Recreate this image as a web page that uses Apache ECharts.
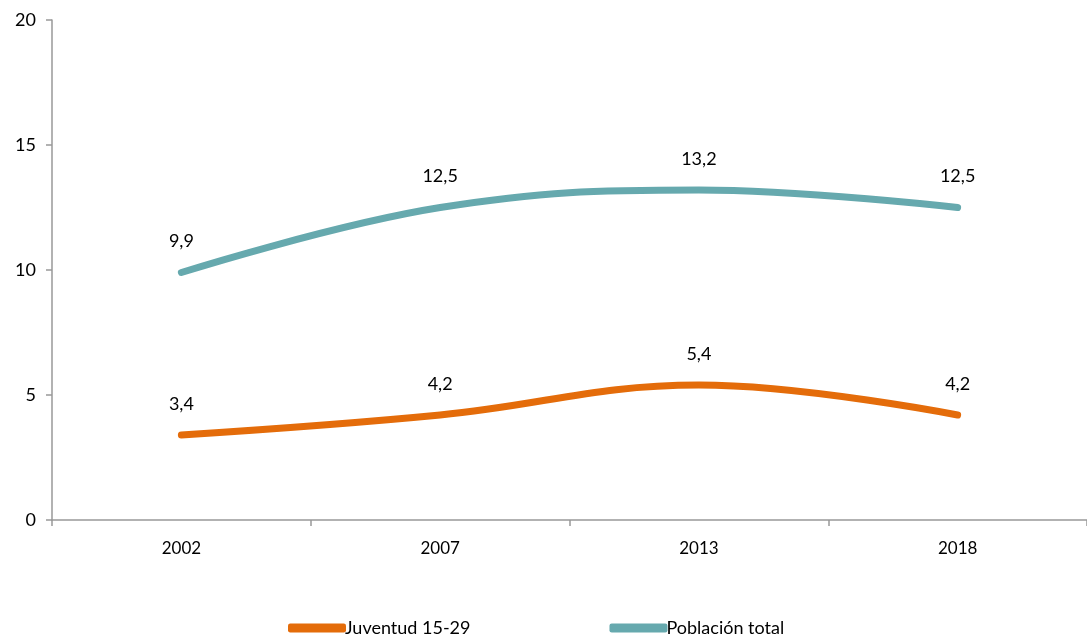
<!DOCTYPE html>
<html><head><meta charset="utf-8">
<script src="https://cdn.jsdelivr.net/npm/echarts@6/dist/echarts.min.js"></script>
<style>html,body{margin:0;padding:0;background:#fff}#c{width:1087px;height:636px}</style>
</head><body><div id="c"></div>
<script>
const categories = ['2002','2007','2013','2018'];
const juventud = [3.4, 4.2, 5.4, 4.2];
const poblacion = [9.9, 12.5, 13.2, 12.5];
const seriesNames = ['Juventud 15-29','Población total'];
const yTicks = [0,5,10,15,20];

const font = 'Lato, "Open Sans", sans-serif';
const chart = echarts.init(document.getElementById('c'));
const lbl = {show:true, position:'top', distance:21, color:'#000', fontSize:18, fontFamily:font,
  formatter: p => Number(p.value).toFixed(1).replace('.', ',')};
chart.setOption({
  animation:false,
  grid:{left:52, top:20, width:1040, bottom:116},
  legend:{top:614, left:283, itemWidth:58, itemHeight:9, itemGap:139, icon:'roundRect',
    textStyle:{fontSize:18, fontFamily:font, color:'#000', padding:[0,0,0,-6]},
    data:seriesNames},
  xAxis:{type:'category', data:categories, boundaryGap:true,
    axisLine:{lineStyle:{color:'#999', width:1.5}},
    axisTick:{show:true, length:6, lineStyle:{color:'#999', width:1.5}},
    axisLabel:{color:'#000', fontSize:17, fontFamily:font, margin:20}},
  yAxis:{type:'value', min:yTicks[0], max:yTicks[yTicks.length-1], interval:5,
    axisLine:{show:true, lineStyle:{color:'#999', width:1.5}},
    axisTick:{show:true, length:6, lineStyle:{color:'#999', width:1.5}},
    splitLine:{show:false},
    axisLabel:{color:'#000', fontSize:18, fontFamily:font, margin:16}},
  series:[
    {name:seriesNames[0], type:'line', data:juventud, smooth:0.4, symbol:'circle', symbolSize:2, showSymbol:true,
     lineStyle:{color:'#E46C0A', width:7, cap:'round'}, itemStyle:{color:'#E46C0A'},
     label:lbl},
    {name:seriesNames[1], type:'line', data:poblacion, smooth:0.4, symbol:'circle', symbolSize:2, showSymbol:true,
     lineStyle:{color:'#66A9AE', width:7, cap:'round'}, itemStyle:{color:'#66A9AE'},
     label:lbl}
  ]
});
</script></body></html>
